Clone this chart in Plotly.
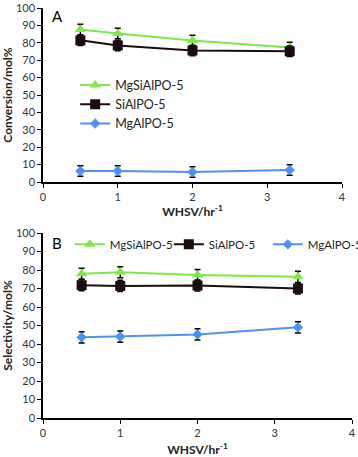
import plotly.graph_objects as go
from plotly.subplots import make_subplots

# WHSV values (hr^-1)
whsv = [0.5, 1, 2, 3.3]

# Panel A: conversion (mol%)
conv_mgsialpo = [87.6, 85.3, 81.3, 77.3]
conv_sialpo = [81.4, 78.5, 75.6, 75.1]
conv_mgalpo = [6.3, 6.3, 5.7, 6.9]
conv_err = [3, 3, 3, 3]

# Panel B: selectivity (mol%)
sel_mgsialpo = [78.0, 78.8, 77.3, 76.3]
sel_sialpo = [71.8, 71.4, 71.6, 70.0]
sel_mgalpo = [43.6, 44.0, 45.2, 49.0]
sel_err = [3, 3, 3, 3]

names = ["MgSiAlPO-5", "SiAlPO-5", "MgAlPO-5"]
colors = ["#7ee84a", "#1c0c0c", "#4a93f2"]
symbols = ["triangle-up", "square", "diamond"]
sizes = [10, 10, 8]

W, H = 358, 457
FONT = "Lato, 'Open Sans', sans-serif"

fig = make_subplots(rows=2, cols=1)

panels = [
    (1, [conv_mgsialpo, conv_sialpo, conv_mgalpo], conv_err, "legend"),
    (2, [sel_mgsialpo, sel_sialpo, sel_mgalpo], sel_err, "legend2"),
]
for row, series, err, leg in panels:
    for name, ys, c, sym, sz in zip(names, series, colors, symbols, sizes):
        fig.add_trace(go.Scatter(
            x=whsv, y=ys, name=name, mode="lines+markers",
            line=dict(color=c, width=2),
            marker=dict(symbol=sym, size=sz, color=c),
            error_y=dict(type="data", array=err, color="black", thickness=1.5, width=3),
            legend=leg,
        ), row=row, col=1)

axis_common = dict(
    showgrid=False, zeroline=False, showline=True, linecolor="black", linewidth=1.5,
    ticks="outside", ticklen=4, tickcolor="black", automargin=False,
    tickfont=dict(size=11, color="#333", family=FONT),
)
fig.update_xaxes(range=[0, 4], dtick=1, **axis_common)
fig.update_yaxes(range=[0, 100], dtick=10, **axis_common)

title_font = dict(size=12, color="#222", family=FONT)
fig.update_xaxes(row=1, col=1, domain=[43 / W, 342 / W],
                 title=dict(text="<b>WHSV/hr<sup>-1</sup></b>", font=title_font, standoff=6))
fig.update_xaxes(row=2, col=1, domain=[43 / W, 352 / W],
                 title=dict(text="<b>WHSV/hr<sup>-1</sup></b>", font=title_font, standoff=9))
fig.update_yaxes(row=1, col=1, domain=[1 - 182 / H, 1 - 8 / H],
                 title=dict(text="<b>Conversion/mol%</b>", font=title_font, standoff=4))
fig.update_yaxes(row=2, col=1, domain=[1 - 418 / H, 1 - 233 / H],
                 title=dict(text="<b>Selectivity/mol%</b>", font=title_font, standoff=4))

fig.update_layout(
    width=W, height=H,
    margin=dict(l=0, r=0, t=0, b=0, autoexpand=False),
    paper_bgcolor="white", plot_bgcolor="white",
    font=dict(family=FONT, size=12, color="#222"),
    legend=dict(x=0.21, y=0.846, xanchor="left", yanchor="top", bgcolor="rgba(0,0,0,0)",
                font=dict(size=12.5, color="#222"), tracegroupgap=0, itemwidth=30),
    legend2=dict(x=0.195, y=0.497, xanchor="left", yanchor="top", orientation="h",
                 bgcolor="rgba(0,0,0,0)", font=dict(size=11.5, color="#222"), itemwidth=30,
                 entrywidth=54, entrywidthmode="pixels"),
    annotations=[
        dict(text="A", x=50 / W, y=1 - 16 / H, xref="paper", yref="paper", yanchor="middle",
             showarrow=False, font=dict(size=15, color="black"), xanchor="left"),
        dict(text="B", x=50 / W, y=1 - 243 / H, xref="paper", yref="paper", yanchor="middle",
             showarrow=False, font=dict(size=15, color="black"), xanchor="left"),
    ],
)

fig.write_html("out.html", config={"displayModeBar": False},
               post_script="document.body.style.margin='0';")
